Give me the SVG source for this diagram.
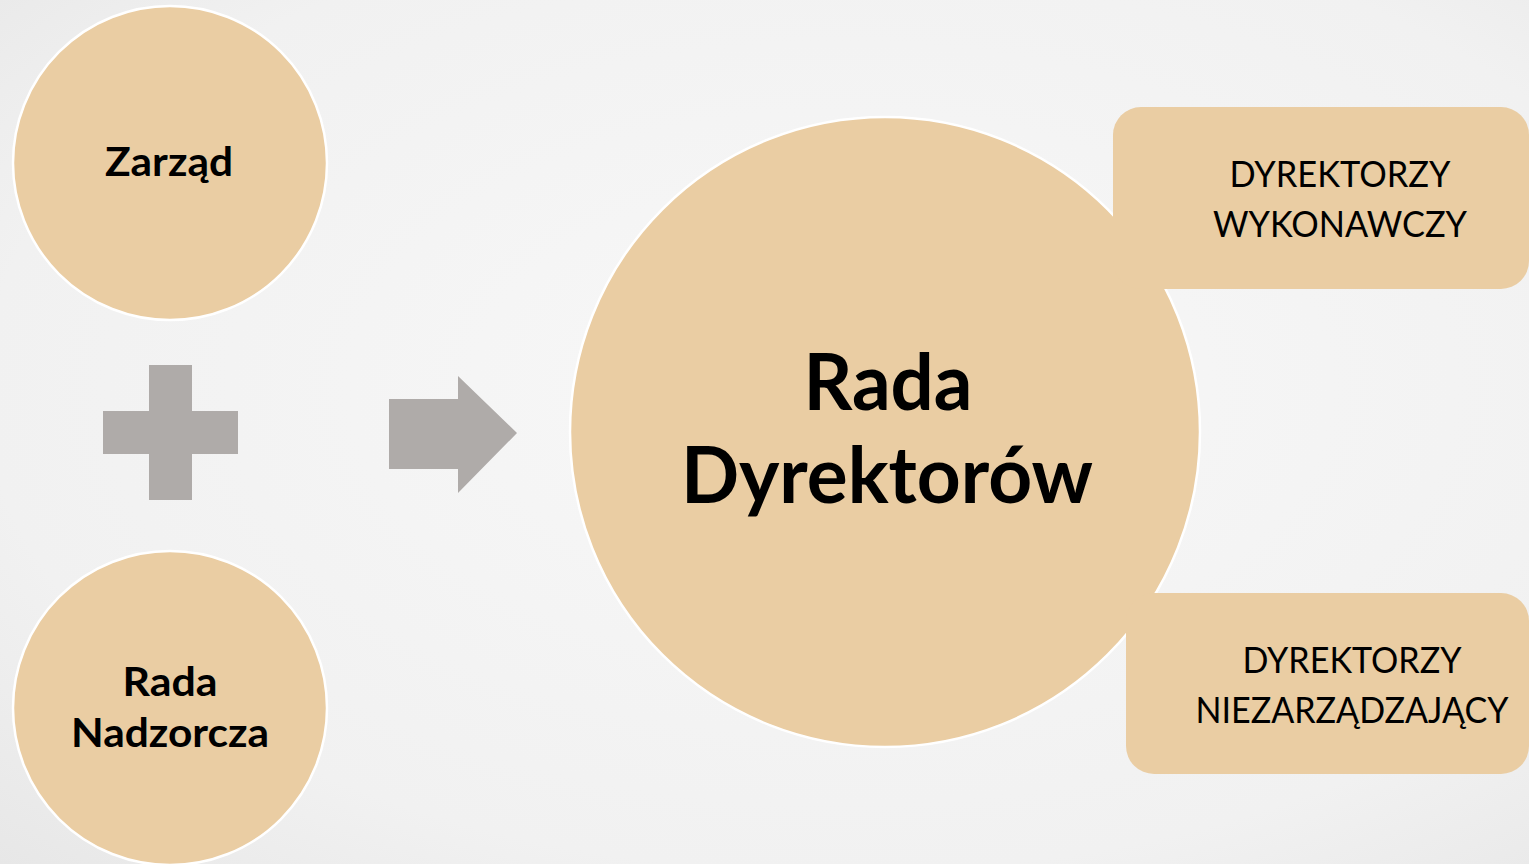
<svg xmlns="http://www.w3.org/2000/svg" width="1529" height="864" viewBox="0 0 1529 864">
<defs>
<radialGradient id="bg" cx="0.55" cy="0.45" r="0.8">
<stop offset="0" stop-color="#F8F8F8"/>
<stop offset="0.7" stop-color="#F1F1F1"/>
<stop offset="1" stop-color="#E6E6E6"/>
</radialGradient>
</defs>
<style>
.node{fill:#EACDA3;stroke:#FFFFFF;stroke-width:2.5}
.box{fill:#EACDA3}
.sym{fill:#AFABA9}
.b{font-family:Lato,"Open Sans","Liberation Sans",sans-serif;font-weight:700;fill:#000;text-anchor:middle}
.r{font-family:Lato,"Open Sans","Liberation Sans",sans-serif;font-weight:400;fill:#000;text-anchor:middle}
</style>
<rect x="0" y="0" width="1529" height="864" fill="url(#bg)"/>
<g id="zarzad">
<circle class="node" cx="170" cy="163" r="157"/>
<text class="b" x="169" y="176" font-size="40" textLength="128" lengthAdjust="spacingAndGlyphs">Zarząd</text>
</g>
<g id="rada-nadzorcza">
<circle class="node" cx="170" cy="708" r="157"/>
<text class="b" x="170" y="696" font-size="40" textLength="95" lengthAdjust="spacingAndGlyphs">Rada</text>
<text class="b" x="170" y="747" font-size="40" textLength="198" lengthAdjust="spacingAndGlyphs">Nadzorcza</text>
</g>
<g id="connectors">
<path id="plus" class="sym" d="M149 365H192V411H238V454H192V500H149V454H103V411H149Z"/>
<path id="arrow" class="sym" d="M389 399H458V376L517 433L458 493V469H389Z"/>
</g>
<g id="rada-dyrektorow">
<circle class="node" cx="885" cy="432" r="315"/>
</g>
<g id="dyrektorzy-wykonawczy">
<rect class="box" x="1113" y="107" width="416" height="182" rx="28"/>
<text class="r" x="1340" y="187" font-size="37" textLength="221" lengthAdjust="spacingAndGlyphs">DYREKTORZY</text>
<text class="r" x="1340" y="237" font-size="37" textLength="254" lengthAdjust="spacingAndGlyphs">WYKONAWCZY</text>
</g>
<g id="dyrektorzy-niezarzadzajacy">
<rect class="box" x="1126" y="593" width="403" height="181" rx="28"/>
<text class="r" x="1352" y="673" font-size="37" textLength="219" lengthAdjust="spacingAndGlyphs">DYREKTORZY</text>
<text class="r" x="1352" y="723" font-size="37" textLength="313" lengthAdjust="spacingAndGlyphs">NIEZARZĄDZAJĄCY</text>
</g>
<g id="rada-dyrektorow-label">
<text class="b" x="888" y="410" font-size="79" textLength="169" lengthAdjust="spacingAndGlyphs">Rada</text>
<text class="b" x="887" y="503" font-size="79" textLength="412" lengthAdjust="spacingAndGlyphs">Dyrektorów</text>
</g>
</svg>
